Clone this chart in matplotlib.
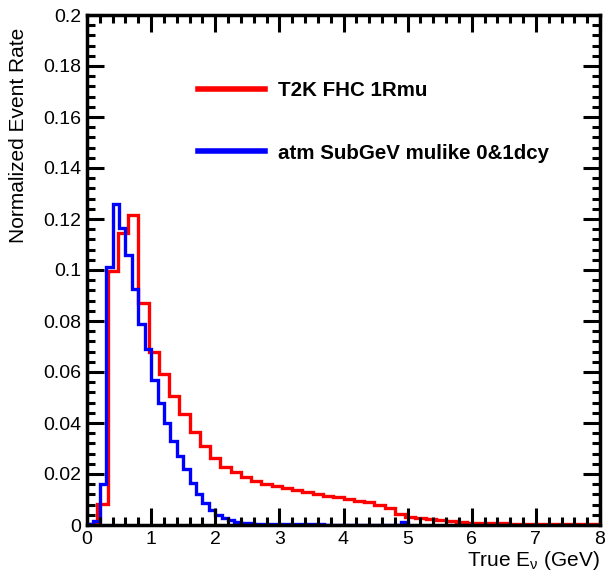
import numpy as np
import matplotlib
matplotlib.use("Agg")
import matplotlib.pyplot as plt
from matplotlib.ticker import MultipleLocator, FormatStrFormatter

# T2K FHC 1Rmu: 50 bins over 0-8 GeV
t2k_edges = np.linspace(0, 8, 51)
t2k_rate = [0.0003, 0.0081, 0.0998, 0.1145, 0.1215, 0.0872, 0.0677, 0.0592,
            0.0507, 0.0435, 0.0363, 0.0310, 0.0262, 0.0228, 0.0206, 0.0189,
            0.0174, 0.0162, 0.0152, 0.0144, 0.0137, 0.0129, 0.0122, 0.0115,
            0.0109, 0.0102, 0.0095, 0.0089, 0.0080, 0.0066, 0.0045, 0.0031,
            0.0026, 0.0022, 0.0019, 0.0016, 0.0012, 0.0009, 0.0008, 0.0007,
            0.0006, 0.0005, 0.0005, 0.0004, 0.0004, 0.0003, 0.0003, 0.0003,
            0.0002, 0.0002]

# atm SubGeV mulike: 50 bins over 0-5 GeV
atm_edges = np.linspace(0, 5, 51)
atm_rate = [0.0003, 0.0015, 0.0160, 0.1010, 0.1260, 0.1166, 0.1057, 0.0926,
            0.0789, 0.0690, 0.0570, 0.0480, 0.0400, 0.0330, 0.0270, 0.0220,
            0.0165, 0.0120, 0.0085, 0.0060, 0.0040, 0.0028, 0.0018, 0.0012,
            0.0008, 0.0006, 0.0005, 0.0004, 0.0004, 0.0003, 0.0003, 0.0003,
            0.0002, 0.0002, 0.0002, 0.0002, 0.0002, 0.0001, 0.0001, 0.0001,
            0.0001, 0.0001, 0.0001, 0.0001, 0.0001, 0.0001, 0.0001, 0.0001,
            0.0001, 0.0012]

plt.rcParams['font.family'] = ['Liberation Sans', 'DejaVu Sans']
plt.rcParams['mathtext.fontset'] = 'custom'
plt.rcParams['mathtext.rm'] = 'Liberation Sans'

fig = plt.figure(figsize=(6.05, 5.74), dpi=100)
ax = fig.add_axes([87 / 605, 49 / 574, 513 / 605, 510 / 574])

ax.stairs(t2k_rate, t2k_edges, color='#ff0000', linewidth=2.4, label='T2K FHC 1Rmu')
ax.stairs(atm_rate, atm_edges, color='#0000ff', linewidth=2.4,
          label='atm SubGeV mulike 0&1dcy')

ax.set_xlim(0, 8)
ax.set_ylim(0, 0.2)
ax.xaxis.set_major_locator(MultipleLocator(1))
ax.xaxis.set_minor_locator(MultipleLocator(0.2))
ax.yaxis.set_major_locator(MultipleLocator(0.02))
ax.yaxis.set_minor_locator(MultipleLocator(0.004))
ax.yaxis.set_major_formatter(FormatStrFormatter('%g'))
ax.tick_params(which='both', direction='in', top=True, right=True, width=2.2,
               labelsize=14, pad=4)
ax.tick_params(which='major', length=12)
ax.tick_params(which='minor', length=6)
for s in ax.spines.values():
    s.set_linewidth(2.5)

ax.set_ylabel('Normalized Event Rate', fontsize=15, ha='right')
ax.yaxis.set_label_coords(-0.115, 0.975)
ax.set_xlabel('True E$_{\\mathrm{\u03bd}}$ (GeV)', fontsize=15, loc='right', labelpad=1)

leg = ax.legend(loc='upper left', bbox_to_anchor=(0.18, 0.906), frameon=False,
                prop={'weight': 'bold', 'size': 14.8}, handlelength=3.25,
                labelspacing=2.1, handletextpad=0.63)
for h in leg.get_lines():
    h.set_linewidth(4)

fig.savefig('out.png', dpi=100)
